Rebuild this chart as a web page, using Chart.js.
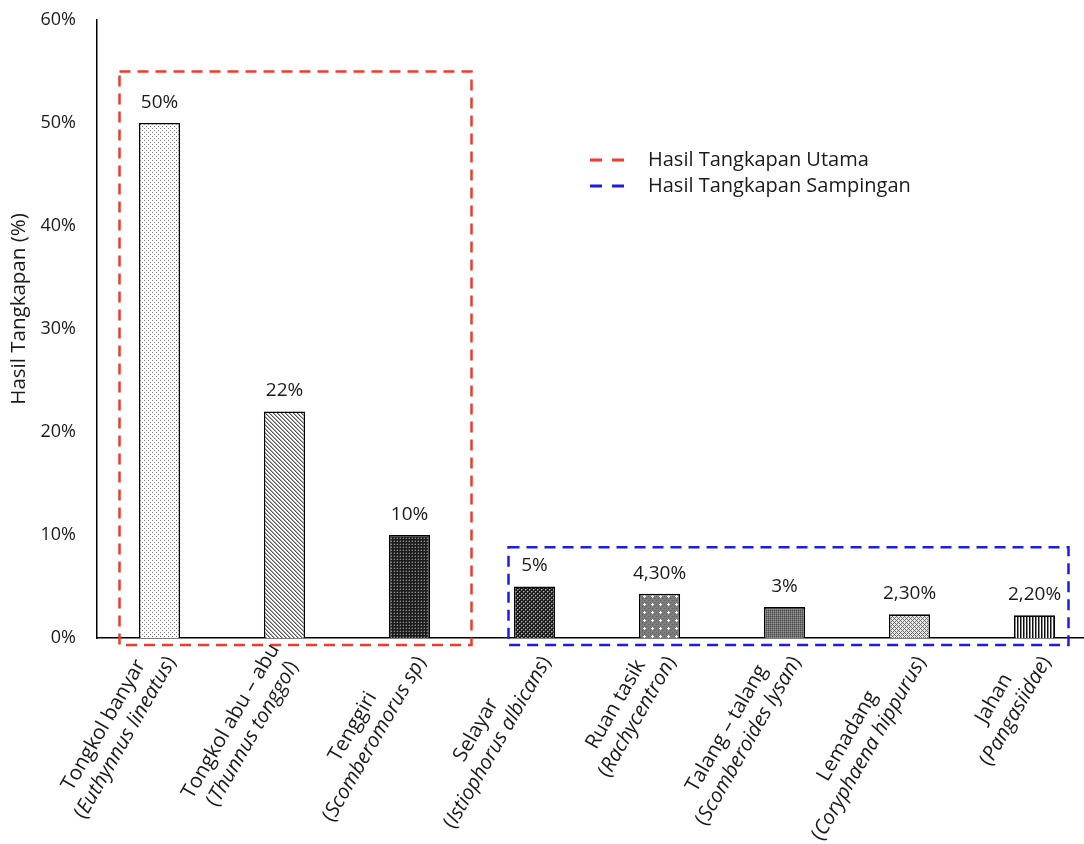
<!DOCTYPE html>
<html>
<head>
<meta charset="utf-8">
<script src="https://cdn.jsdelivr.net/npm/chart.js@4.4.1/dist/chart.umd.min.js"></script>
<style>
  html, body { margin: 0; padding: 0; background: #fff; overflow: hidden; }
  #wrap { width: 1084px; height: 844px; overflow: hidden; }
  canvas { display: block; }
</style>
</head>
<body>
<div id="wrap"><canvas id="chart" width="1100" height="844"></canvas></div>
<script>
// Catch composition by species (percent of total catch)
const commonNames = [
  'Tongkol banyar', 'Tongkol abu \u2013 abu', 'Tenggiri', 'Selayar',
  'Ruan tasik', 'Talang \u2013 talang', 'Lemadang', 'Jahan'
];
const scientificNames = [
  'Euthynnus lineatus', 'Thunnus tonggol', 'Scomberomorus sp', 'Istiophorus albicans',
  'Rachycentron', 'Scomberoides lysan', 'Coryphaena hippurus', 'Pangasiidae'
];
const catchShare = [50, 22, 10, 5, 4.3, 3, 2.3, 2.2];
const valueLabels = ['50%', '22%', '10%', '5%', '4,30%', '3%', '2,30%', '2,20%'];
const yTicks = [0, 10, 20, 30, 40, 50, 60];

// Catch groups: main catch and by-catch (index ranges into the categories)
const groupNames = ['Hasil Tangkapan Utama', 'Hasil Tangkapan Sampingan'];
const groupRanges = [[0, 2], [3, 7]];
const groupTops = [55, 8.8];
const groupColors = ['#f2392b', '#1c1ce6'];

const FONT = '"Open Sans", "Noto Sans", sans-serif';
const TEXT = '#1a1a1a';

// ---- fill patterns for the bars ----
function tile(w, h, draw) {
  const c = document.createElement('canvas');
  c.width = w; c.height = h;
  const g = c.getContext('2d');
  draw(g, w, h);
  return document.createElement('canvas').getContext('2d').createPattern(c, 'repeat');
}
function px(g, color, pts) {
  g.fillStyle = color;
  pts.forEach(p => g.fillRect(p[0], p[1], 1, 1));
}
const patterns = [
  // fine stipple
  tile(4, 4, (g, w, h) => { g.fillStyle = '#fff'; g.fillRect(0, 0, w, h); px(g, '#7a7a7a', [[0, 0], [2, 2]]); }),
  // diagonal hatch
  tile(4, 4, (g, w, h) => { g.fillStyle = '#fff'; g.fillRect(0, 0, w, h); px(g, '#555', [[0, 0], [1, 1], [2, 2], [3, 3]]); px(g, '#aaa', [[1, 0], [2, 1], [3, 2], [0, 3]]); }),
  // dark dense grid
  tile(3, 3, (g, w, h) => { g.fillStyle = '#1c1c1c'; g.fillRect(0, 0, w, h); px(g, '#8a8a8a', [[1, 1]]); px(g, '#4a4a4a', [[1, 0], [0, 1]]); }),
  // dark diamonds
  tile(4, 4, (g, w, h) => { g.fillStyle = '#1a1a1a'; g.fillRect(0, 0, w, h); px(g, '#b5b5b5', [[1, 1], [3, 3]]); px(g, '#666', [[2, 1], [1, 2], [0, 3], [3, 0]]); }),
  // grey with white sparkles
  tile(8, 8, (g, w, h) => { g.fillStyle = '#7d7d7d'; g.fillRect(0, 0, w, h); px(g, '#5e5e5e', [[0, 0], [2, 2], [4, 0], [6, 2], [0, 4], [2, 6], [6, 6]]); px(g, '#fff', [[4, 4], [3, 4], [5, 4], [4, 3], [4, 5]]); }),
  // medium grey texture
  tile(2, 2, (g, w, h) => { g.fillStyle = '#6e6e6e'; g.fillRect(0, 0, w, h); px(g, '#4a4a4a', [[0, 0]]); px(g, '#9a9a9a', [[1, 1]]); }),
  // light crosshatch
  tile(4, 4, (g, w, h) => { g.fillStyle = '#e8e8e8'; g.fillRect(0, 0, w, h); px(g, '#6a6a6a', [[0, 0], [2, 2], [1, 1], [3, 3], [1, 3], [3, 1]]); }),
  // vertical stripes
  tile(3, 1, (g, w, h) => { g.fillStyle = '#fff'; g.fillRect(0, 0, w, h); px(g, '#111', [[0, 0]]); px(g, '#888', [[1, 0]]); })
];

// ---- annotations drawn on top of the bars ----
const annotations = {
  id: 'annotations',
  afterDraw(chart) {
    const { ctx, chartArea } = chart;
    const xs = chart.scales.x, ys = chart.scales.y;
    const meta = chart.getDatasetMeta(0);
    ctx.save();

    // value labels
    ctx.fillStyle = TEXT;
    ctx.font = '19px ' + FONT;
    ctx.textAlign = 'center';
    ctx.textBaseline = 'bottom';
    meta.data.forEach((bar, i) => {
      ctx.fillText(valueLabels[i], bar.x, bar.y - 11);
    });

    // dashed group boxes
    const pads = [[40, 62], [26, 34]];
    ctx.lineWidth = 2.5;
    ctx.setLineDash([11, 7]);
    groupRanges.forEach((r, k) => {
      const l = xs.getPixelForValue(r[0]) - pads[k][0];
      const rt = xs.getPixelForValue(r[1]) + pads[k][1];
      const t = ys.getPixelForValue(groupTops[k]);
      const b = ys.getPixelForValue(0) + 7;
      ctx.strokeStyle = groupColors[k];
      ctx.strokeRect(l, t, rt - l, b - t);
    });

    // legend
    ctx.setLineDash([12, 10]);
    ctx.lineWidth = 3;
    ctx.font = '20px ' + FONT;
    ctx.textAlign = 'left';
    ctx.textBaseline = 'middle';
    groupNames.forEach((name, k) => {
      const ly = 160 + k * 26;
      ctx.strokeStyle = groupColors[k];
      ctx.beginPath();
      ctx.moveTo(590, ly);
      ctx.lineTo(634, ly);
      ctx.stroke();
      ctx.fillStyle = TEXT;
      ctx.fillText(name, 648, ly);
    });
    ctx.setLineDash([]);

    // y axis title
    ctx.save();
    ctx.translate(19, (chartArea.top + chartArea.bottom) / 2 - 20);
    ctx.rotate(-Math.PI / 2);
    ctx.textAlign = 'center';
    ctx.textBaseline = 'middle';
    ctx.font = '20.5px ' + FONT;
    ctx.fillStyle = TEXT;
    ctx.fillText('Hasil Tangkapan (%)', 0, 0);
    ctx.restore();

    // rotated two-line category labels
    const upright = '20.5px ' + FONT;
    const italic = 'italic 20.5px ' + FONT;
    const lh = 25;
    commonNames.forEach((name, i) => {
      const cx = xs.getPixelForValue(i);
      ctx.save();
      ctx.translate(cx + 1, chartArea.bottom + 14);
      ctx.rotate(-Math.PI / 3);
      ctx.fillStyle = TEXT;
      ctx.textBaseline = 'middle';
      ctx.textAlign = 'left';
      ctx.font = upright;
      const w1 = ctx.measureText(name).width;
      const wp = ctx.measureText('(').width + ctx.measureText(')').width;
      ctx.font = italic;
      const wi = ctx.measureText(scientificNames[i]).width;
      const w2 = wp + wi;
      const mw = Math.max(w1, w2);
      const mid = -mw / 2;
      ctx.font = upright;
      ctx.fillText(name, mid - w1 / 2, -lh / 2);
      let x0 = mid - w2 / 2;
      ctx.fillText('(', x0, lh / 2);
      x0 += ctx.measureText('(').width;
      ctx.font = italic;
      ctx.fillText(scientificNames[i], x0, lh / 2);
      x0 += wi;
      ctx.font = upright;
      ctx.fillText(')', x0, lh / 2);
      ctx.restore();
    });

    ctx.restore();
  }
};

new Chart(document.getElementById('chart'), {
  type: 'bar',
  data: {
    labels: commonNames,
    datasets: [{
      data: catchShare,
      backgroundColor: patterns,
      borderColor: '#000',
      borderWidth: 1.6,
      categoryPercentage: 1,
      barPercentage: 0.33
    }]
  },
  options: {
    responsive: false,
    animation: false,
    layout: { autoPadding: false, padding: { top: 20, right: 3, left: 0, bottom: 0 } },
    plugins: { legend: { display: false }, tooltip: { enabled: false } },
    scales: {
      x: {
        grid: { display: false },
        border: { display: true, color: '#000', width: 1.5 },
        ticks: { display: false },
        afterFit(s) { s.height = 206; }
      },
      y: {
        min: 0,
        max: 60,
        afterBuildTicks(s) { s.ticks = yTicks.map(v => ({ value: v })); },
        ticks: {
          callback: v => v + '%',
          color: TEXT,
          font: { family: FONT, size: 18 },
          padding: 21
        },
        grid: { display: false, drawTicks: false },
        border: { display: true, color: '#000', width: 1.5 },
        afterFit(s) {
          s.width = 97;
          s.paddingTop = 0;
          s.paddingBottom = 0;
        }
      }
    }
  },
  plugins: [annotations]
});
</script>
</body>
</html>
